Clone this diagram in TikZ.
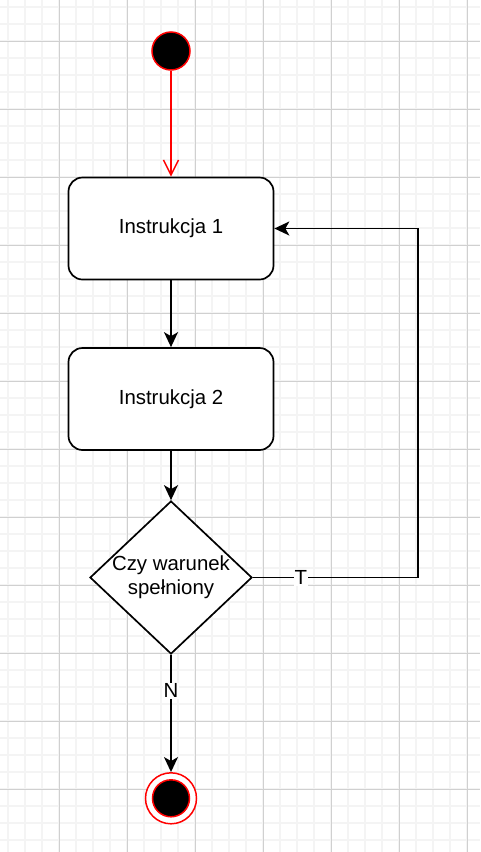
\documentclass[tikz,border=0pt]{standalone}
\usepackage{fontspec}
\setmainfont{Liberation Sans}
\usetikzlibrary{shapes.geometric,arrows.meta}
\definecolor{gridminor}{RGB}{244,244,244}
\definecolor{gridmajor}{RGB}{208,208,208}
\definecolor{umlred}{RGB}{255,0,0}
\tikzset{
  stepbox/.style={draw=black, line width=1.7pt, rounded corners=14pt, fill=white,
    minimum width=205pt, minimum height=102pt, font=\fontsize{20.4pt}{24pt}\selectfont},
  flow/.style={draw=black, line width=1.7pt, -{Stealth[length=15pt,width=14pt,inset=4pt]}},
  plain/.style={draw=black, line width=1.7pt},
  edgelabel/.style={fill=white, inner sep=1pt, font=\fontsize{20.4pt}{24pt}\selectfont},
}
\begin{document}
\begin{tikzpicture}[x=1pt,y=-1pt]
\useasboundingbox (0,0) rectangle (480,852);
\fill[white] (0,0) rectangle (480,852);
% grid
\foreach \i in {0,...,28} {
  \draw[gridminor, line width=1.4pt] ({8+17*\i},0) -- ({8+17*\i},852);
}
\foreach \j in {0,...,50} {
  \draw[gridminor, line width=1.4pt] (0,{7+17*\j}) -- (480,{7+17*\j});
}
\foreach \i in {0,...,6} {
  \draw[gridmajor, line width=0.8pt] ({59+68*\i},0) -- ({59+68*\i},852);
}
\foreach \j in {0,...,12} {
  \draw[gridmajor, line width=0.8pt] (0,{41+68*\j}) -- (480,{41+68*\j});
}
% nodes
\node[circle, fill=black, draw=umlred, line width=1.5pt, minimum size=38pt, inner sep=0pt] (start) at (171,51) {};
\node[stepbox] (i1) at (171,228.5) {Instrukcja 1};
\node[stepbox] (i2) at (171,399) {Instrukcja 2};
\node[diamond, draw=black, line width=1.7pt, fill=white, minimum width=162pt, minimum height=153pt, inner sep=0pt] (d) at (171,577.5) {};
\node[align=center, font=\fontsize{20.4pt}{23.5pt}\selectfont] (dl) at (171,577) {Czy warunek\\spełniony};
\node[circle, draw=umlred, line width=1.5pt, fill=white, minimum size=51pt, inner sep=0pt] (end) at (171,798.3) {};
\node[circle, draw=umlred, line width=1.5pt, fill=black, minimum size=37pt, inner sep=0pt] (endin) at (end.center) {};
\coordinate (c1) at (418,577.5);
% edges
\draw[umlred, line width=1.5pt, -{Straight Barb[length=15pt,width=15pt]}] (start) -- (i1.north);
\draw[flow] (i1.south) -- (i2.north);
\draw[flow] (i2.south) -- (d.north);
\draw[plain] (d.east) -- node[edgelabel, pos=0.29] (tl) {T} (c1);
\draw[flow] (c1) |- (i1.east);
\draw[flow] (d.south) -- node[edgelabel, pos=0.305] (nl) {N} (end.north);
\end{tikzpicture}
\end{document}
